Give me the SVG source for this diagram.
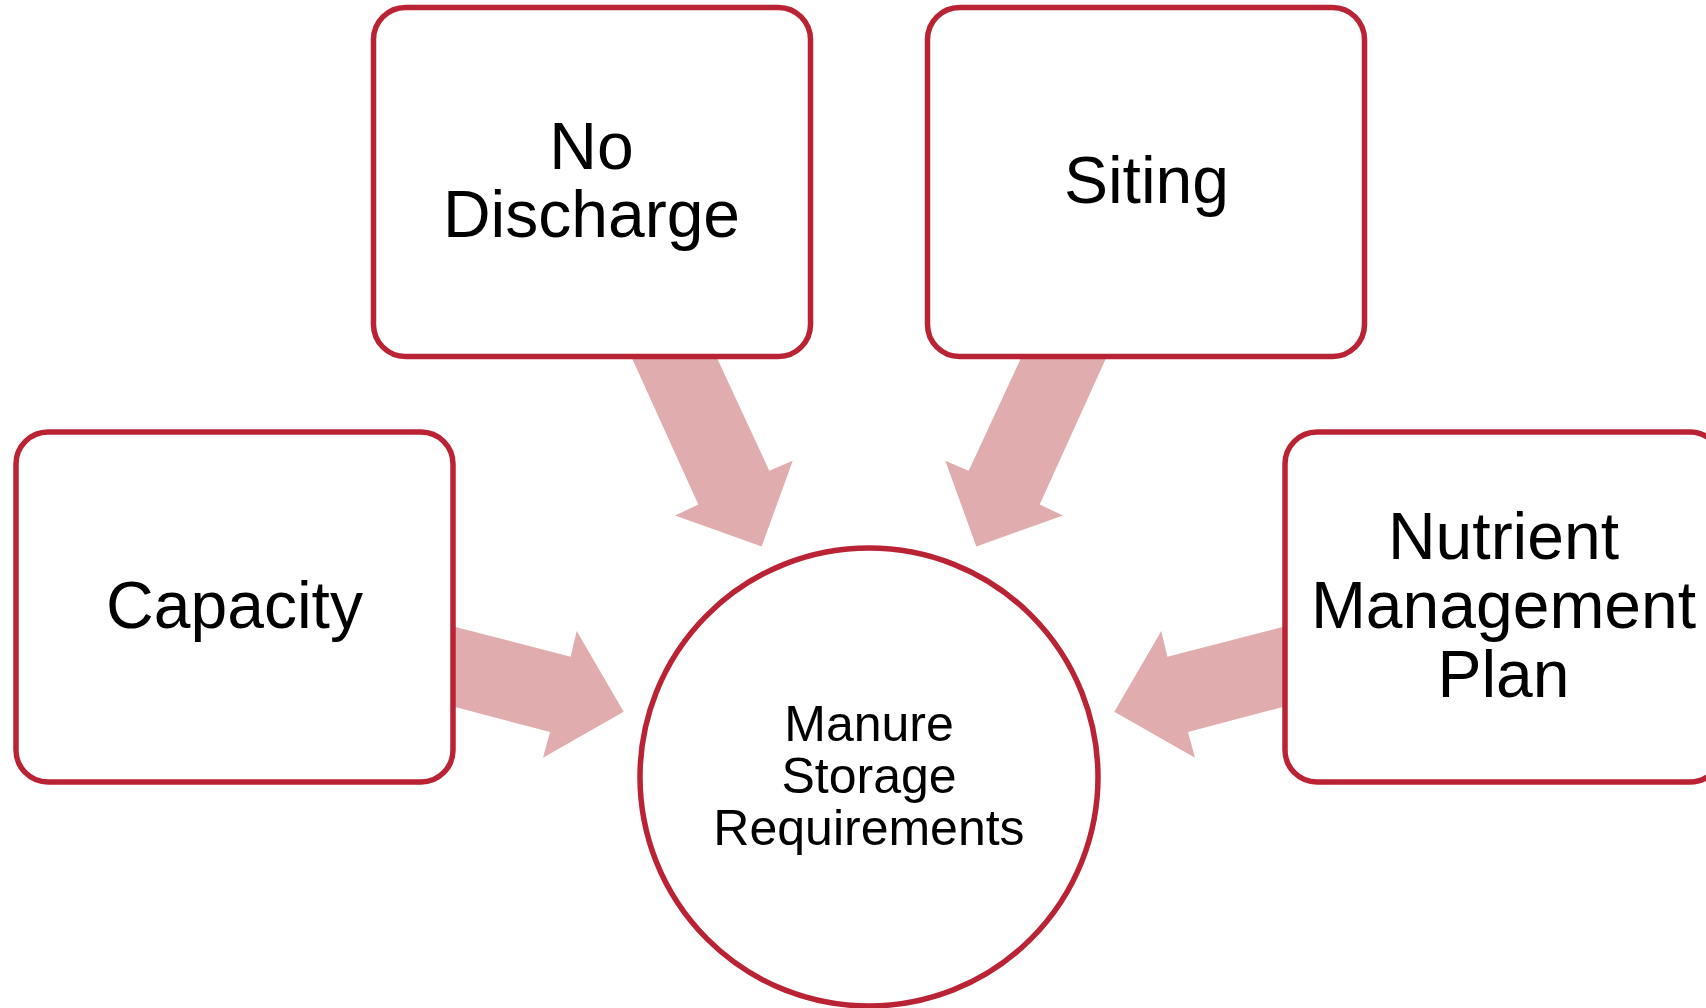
<svg xmlns="http://www.w3.org/2000/svg" width="1706" height="1008" viewBox="0 0 1706 1008">
<style>
.box{fill:#ffffff;stroke:#B92333;stroke-width:5.5}
.arrow{fill:#E0ACAE;stroke:none}
.lbl{font-family:"Liberation Sans",Arial,sans-serif;font-size:66px;fill:#000000;text-anchor:middle}
.sm{font-family:"Liberation Sans",Arial,sans-serif;font-size:50px;fill:#000000;text-anchor:middle}
</style>
<rect width="1706" height="1008" fill="#ffffff"/>
<g id="connectors">
<polygon class="arrow" points="440,623 570.6,656.7 576.7,631 623.7,711.7 543,757.7 550,732 440,703"/>
<polygon class="arrow" points="1298,623 1167.4,656.7 1161.3,631 1114.3,711.7 1195,757.7 1188,732 1298,703"/>
<polygon class="arrow" points="626,345 698.3,504.6 675,515.4 761.7,546.4 792.7,460.7 769.3,470.7 711,345"/>
<polygon class="arrow" points="1112,345 1039.7,504.6 1063,515.4 976.3,546.4 945.3,460.7 968.7,470.7 1027,345"/>
</g>
<g id="node-capacity">
<rect class="box" x="16" y="432" width="437" height="350" rx="32"/>
<text class="lbl" x="234.5" y="628">Capacity</text>
</g>
<g id="node-nodischarge">
<rect class="box" x="373.5" y="7.5" width="437" height="349" rx="32"/>
<text class="lbl" x="591.5" y="169">No</text>
<text class="lbl" x="591.5" y="237">Discharge</text>
</g>
<g id="node-siting">
<rect class="box" x="927.5" y="7.5" width="437" height="349" rx="32"/>
<text class="lbl" x="1146.5" y="203">Siting</text>
</g>
<g id="node-nutrient">
<rect class="box" x="1285" y="432" width="437" height="350" rx="32"/>
<text class="lbl" x="1503.5" y="559">Nutrient</text>
<text class="lbl" x="1503.5" y="628">Management</text>
<text class="lbl" x="1503.5" y="697">Plan</text>
</g>
<g id="node-center">
<circle class="box" cx="869" cy="777" r="229"/>
<text class="sm" x="869" y="741">Manure</text>
<text class="sm" x="869" y="793">Storage</text>
<text class="sm" x="869" y="845">Requirements</text>
</g>
</svg>
